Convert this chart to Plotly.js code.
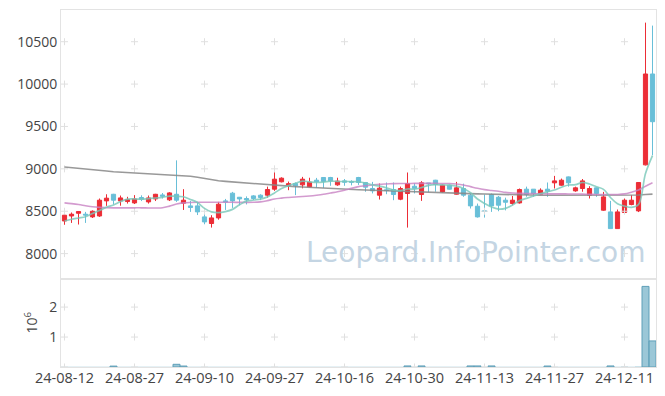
<!DOCTYPE html>
<html>
<head>
<meta charset="utf-8">
<script src="https://cdn.plot.ly/plotly-3.0.1.min.js"></script>
<style>html,body{margin:0;padding:0;background:#fff;}#chart{width:665px;height:396px;}</style>
</head>
<body>
<div id="chart"></div>
<script>
const dates = [
"24-08-12","24-08-13","24-08-14","24-08-16","24-08-19","24-08-20","24-08-21","24-08-22","24-08-23","24-08-26",
"24-08-27","24-08-28","24-08-29","24-08-30","24-09-02","24-09-03","24-09-04","24-09-05","24-09-06","24-09-09",
"24-09-10","24-09-11","24-09-12","24-09-13","24-09-19","24-09-20","24-09-23","24-09-24","24-09-25","24-09-26",
"24-09-27","24-09-30","24-10-02","24-10-04","24-10-07","24-10-08","24-10-10","24-10-11","24-10-14","24-10-15",
"24-10-16","24-10-17","24-10-18","24-10-21","24-10-22","24-10-23","24-10-24","24-10-25","24-10-28","24-10-29",
"24-10-30","24-10-31","24-11-01","24-11-04","24-11-05","24-11-06","24-11-07","24-11-08","24-11-11","24-11-12",
"24-11-13","24-11-14","24-11-15","24-11-18","24-11-19","24-11-20","24-11-21","24-11-22","24-11-25","24-11-26",
"24-11-27","24-11-28","24-11-29","24-12-02","24-12-03","24-12-04","24-12-05","24-12-06","24-12-09","24-12-10",
"24-12-11","24-12-12","24-12-13","24-12-16","24-12-17"];

const openP = [8385,8444,8476,8465,8433,8444,8622,8700,8622,8614,
8598,8662,8610,8645,8692,8634,8700,8595,8563,8563,
8433,8355,8421,8622,8713,8665,8650,8681,8689,8689,
8760,8847,8805,8827,8811,8787,8866,8898,8898,8811,
8858,8850,8898,8839,8768,8689,8752,8756,8642,8709,
8795,8697,8833,8866,8728,8807,8701,8768,8689,8559,
8505,8697,8665,8630,8591,8598,8760,8760,8701,8760,
8835,8807,8905,8740,8768,8689,8776,8512,8492,8295,
8485,8579,8504,9047,10119];
const highP = [8465,8485,8500,8492,8510,8650,8700,8705,8685,8670,
8690,8688,8685,8705,8715,8725,9100,8760,8622,8610,
8500,8453,8610,8645,8728,8668,8675,8690,8700,8790,
8960,8900,8850,8840,8905,8895,8893,8900,8905,8895,
8880,8865,8905,8845,8846,8827,8839,8839,8790,8957,
8830,8855,8833,8870,8815,8815,8846,8825,8709,8590,
8697,8709,8680,8660,8680,8768,8790,8762,8770,8839,
8917,8885,8910,8790,8880,8795,8780,8728,8622,8520,
8650,8690,8840,10725,10690];
const lowP = [8340,8362,8343,8362,8420,8433,8563,8580,8565,8590,
8585,8620,8590,8620,8650,8620,8610,8515,8492,8455,
8346,8307,8400,8515,8539,8570,8580,8630,8630,8660,
8740,8840,8748,8690,8770,8780,8775,8775,8800,8800,
8800,8805,8810,8730,8710,8638,8701,8630,8630,8307,
8710,8622,8725,8730,8720,8755,8697,8670,8532,8425,
8425,8492,8500,8510,8570,8590,8670,8670,8690,8670,
8768,8800,8790,8730,8730,8650,8670,8505,8295,8295,
8470,8570,8490,9040,9160];
const closeP = [8453,8465,8496,8455,8500,8630,8654,8630,8657,8638,
8645,8642,8657,8700,8677,8716,8630,8630,8544,8492,
8374,8421,8583,8610,8622,8645,8634,8650,8662,8756,
8878,8890,8825,8800,8878,8843,8848,8851,8858,8855,
8843,8843,8839,8784,8740,8772,8745,8697,8768,8827,
8770,8835,8825,8815,8807,8760,8776,8689,8563,8433,
8497,8563,8571,8606,8630,8756,8697,8709,8748,8736,
8858,8866,8835,8776,8858,8768,8709,8669,8295,8492,
8630,8630,8839,10119,9556];

const ma5 = [8385,8405,8420,8435,8474,8509,8547,8574,8614,8642,
8645,8642,8648,8656,8664,8678,8676,8671,8639,8602,
8534,8492,8483,8496,8522,8576,8619,8632,8643,8669,
8716,8767,8802,8830,8854,8847,8839,8844,8856,8851,
8851,8850,8848,8833,8810,8796,8776,8748,8744,8762,
8761,8779,8805,8814,8810,8808,8797,8769,8719,8644,
8592,8549,8525,8534,8573,8625,8652,8680,8708,8729,
8750,8783,8809,8814,8839,8821,8789,8758,8662,8588,
8561,8545,8579,8944,9156];
const ma20 = [8598,8590,8580,8565,8552,8545,8542,8540,8540,8540,
8540,8540,8538,8538,8540,8560,8585,8598,8603,8605,
8605,8605,8605,8605,8605,8604,8604,8605,8610,8625,
8645,8655,8662,8668,8673,8680,8689,8700,8715,8730,
8748,8770,8790,8800,8810,8818,8822,8825,8827,8827,
8828,8828,8828,8828,8827,8827,8822,8810,8790,8770,
8755,8745,8735,8722,8715,8712,8709,8708,8706,8705,
8705,8705,8704,8703,8702,8700,8698,8697,8697,8698,
8705,8725,8750,8795,8835];
const ma60 = [9022,9015,9008,9002,8996,8985,8975,8965,8960,8955,
8950,8945,8940,8935,8930,8927,8925,8920,8912,8900,
8885,8870,8860,8852,8845,8840,8835,8830,8825,8818,
8810,8803,8797,8790,8785,8780,8776,8772,8768,8764,
8760,8757,8754,8751,8748,8745,8742,8738,8735,8730,
8725,8720,8718,8716,8714,8712,8710,8709,8707,8705,
8703,8700,8698,8695,8692,8690,8689,8688,8688,8688,
8688,8688,8688,8688,8688,8688,8688,8688,8687,8686,
8686,8688,8692,8697,8702];
const volume = [9000,7000,8000,6000,10000,12000,9000,30000,8000,7000,
9000,6000,7000,8000,6000,9000,90000,32000,10000,8000,
11000,9000,10000,7000,6000,5000,6000,7000,8000,11000,
12000,8000,7000,6000,9000,7000,6000,5000,6000,7000,
6000,8000,7000,9000,8000,10000,9000,11000,10000,35000,
9000,35000,8000,7000,8000,6000,9000,10000,35000,35000,
12000,35000,10000,9000,8000,12000,9000,8000,7000,32000,
9000,8000,10000,7000,9000,8000,9000,12000,35000,12000,
14000,10000,15000,2690000,870000];

const tickDates = ["24-08-12","24-08-27","24-09-10","24-09-27","24-10-16","24-10-30","24-11-13","24-11-27","24-12-11"];
const priceTicks = [8000,8500,9000,9500,10000,10500];
const priceTickText = ["8000","8500","9000","9500","10000","10500"];
const volTicks = [1000000,2000000];
const volTickText = ["1","2"];

const UP = '#ec2d36', DOWN = '#69bfd8';
const FONT = 'Open Sans, Noto Sans, sans-serif';

const crossX = [], crossY = [], crossX2 = [], crossY2 = [];
tickDates.forEach(d => { priceTicks.forEach(v => { crossX.push(d); crossY.push(v); }); });
tickDates.forEach(d => { [0].concat(volTicks).forEach(v => { crossX2.push(d); crossY2.push(v); }); });
const volLineW = volume.map(v => v >= 20000 ? 1 : 0);

const traces = [
  {type:'candlestick', x:dates, open:openP, high:highP, low:lowP, close:closeP, xaxis:'x', yaxis:'y',
   increasing:{line:{color:UP, width:1}, fillcolor:UP},
   decreasing:{line:{color:DOWN, width:1}, fillcolor:DOWN},
   whiskerwidth:0, showlegend:false, hoverinfo:'skip'},
  {type:'scatter', mode:'markers', x:crossX, y:crossY, xaxis:'x', yaxis:'y', hoverinfo:'skip',
   marker:{symbol:'cross-thin', size:5, line:{width:1, color:'#e0e0e0'}}, showlegend:false},
  {type:'scatter', mode:'markers', x:crossX2, y:crossY2, xaxis:'x', yaxis:'y2', hoverinfo:'skip',
   marker:{symbol:'cross-thin', size:5, line:{width:1, color:'#e0e0e0'}}, showlegend:false},
  {type:'scatter', mode:'lines', x:dates, y:ma60, xaxis:'x', yaxis:'y', line:{color:'rgba(135,135,135,0.85)', width:1.6}, showlegend:false, hoverinfo:'skip'},
  {type:'scatter', mode:'lines', x:dates, y:ma20, xaxis:'x', yaxis:'y', line:{color:'rgba(200,130,195,0.8)', width:1.6, shape:'spline'}, showlegend:false, hoverinfo:'skip'},
  {type:'scatter', mode:'lines', x:dates, y:ma5, xaxis:'x', yaxis:'y', line:{color:'rgba(120,200,185,0.8)', width:1.7, shape:'spline'}, showlegend:false, hoverinfo:'skip'},
  {type:'bar', x:dates, y:volume, xaxis:'x', yaxis:'y2', marker:{color:'rgba(130,185,205,0.8)', line:{color:'#5f9fb8', width:volLineW}}, showlegend:false, hoverinfo:'skip'}
];

const layout = {
  width:665, height:396,
  margin:{l:61, r:9, t:10, b:29, pad:0},
  paper_bgcolor:'#fff', plot_bgcolor:'#fff',
  font:{family:FONT, size:14, color:'#444'},
  showlegend:false,
  bargap:0,
  boxgap:0.15,
  xaxis:{type:'category', categoryorder:'array', categoryarray:dates, anchor:'y2', range:[-0.5, 84.5], rangeslider:{visible:false},
    tickmode:'array', tickvals:tickDates, ticktext:tickDates, showgrid:false, zeroline:false,
    showline:true, linecolor:'#e3e3e3', linewidth:1, mirror:'all', ticks:'', fixedrange:true, tickangle:0,
    ticklabelstandoff:-2,
    tickfont:{family:FONT, size:14.5, color:'#444'}},
  yaxis:{domain:[0.2476, 1], range:[7705, 10874], tickmode:'array', tickvals:priceTicks, ticktext:priceTickText,
    showgrid:false, zeroline:false, showline:true, linecolor:'#e3e3e3', linewidth:1, mirror:'all', ticks:'',
    tickfont:{family:FONT, size:14, color:'#444'}},
  yaxis2:{domain:[0, 0.2476], range:[0, 2950000], tickmode:'array', tickvals:volTicks, ticktext:volTickText,
    showgrid:false, zeroline:false, showline:true, linecolor:'#e3e3e3', linewidth:1, mirror:'all', ticks:'',
    tickfont:{family:FONT, size:14, color:'#444'},
    title:{text:'10<sup>6</sup>', font:{family:FONT, size:14, color:'#444'}, standoff:8}},
  annotations:[{text:'Leopard.InfoPointer.com', xref:'paper', yref:'paper', x:0.696, y:0.322,
    xanchor:'center', yanchor:'middle', showarrow:false,
    font:{family:'DejaVu Sans, sans-serif', size:28, color:'#c4d5e3'}}]
};

Plotly.newPlot('chart', traces, layout, {staticPlot:true, displayModeBar:false});
</script>
</body>
</html>
